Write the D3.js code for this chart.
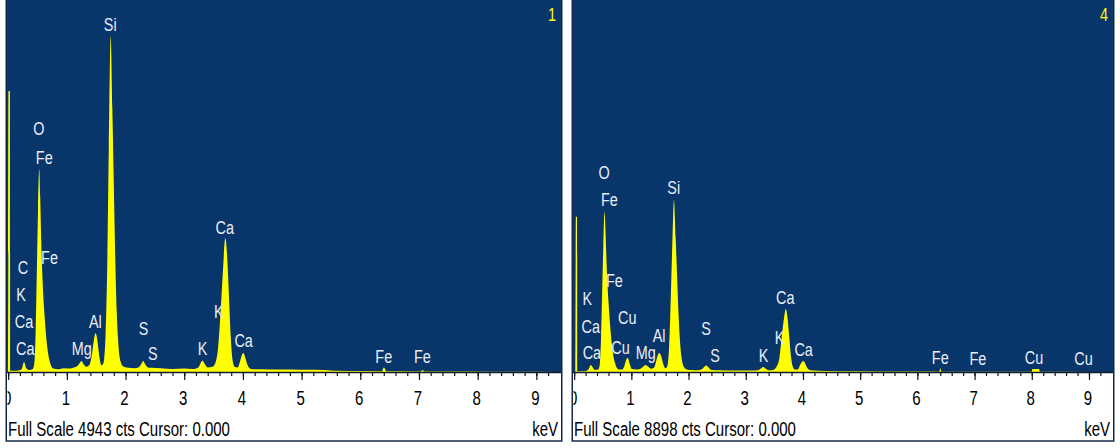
<!DOCTYPE html>
<html>
<head>
<meta charset="utf-8">
<script src="https://cdn.jsdelivr.net/npm/d3@7"></script>
<style>
  html, body { margin: 0; padding: 0; background: #ffffff; }
  svg { display: block; }
  text { font-family: "Liberation Sans", Arial, sans-serif; }
</style>
</head>
<body>
<svg id="chart" width="1120" height="448"></svg>
<script>
// ---- EDS spectra: [energy keV, counts] ----
const spectrum1 = [
  [-0.02, 0], [0.0, 0], [0.005, 3734], [0.03, 3734], [0.035, 20],
  [0.10, 15], [0.18, 20], [0.23, 40], [0.27, 133], [0.31, 50], [0.36, 25], [0.42, 40], [0.45, 150],
  [0.47, 600], [0.49, 1400], [0.51, 2200], [0.528, 2698], [0.545, 2350], [0.565, 1700], [0.59, 1150],
  [0.62, 750], [0.65, 450], [0.68, 250], [0.72, 110], [0.77, 45],
  [0.85, 35], [0.95, 50], [1.05, 45], [1.12, 60], [1.18, 80], [1.22, 120], [1.25, 146], [1.28, 110],
  [1.33, 70], [1.38, 90], [1.42, 200], [1.46, 420], [1.49, 518], [1.52, 420], [1.555, 200], [1.59, 90],
  [1.62, 110], [1.66, 500], [1.69, 1500], [1.715, 3000], [1.747, 4465], [1.775, 3500], [1.80, 2500],
  [1.825, 1500], [1.85, 800], [1.88, 350], [1.92, 130], [1.97, 70],
  [2.05, 55], [2.15, 50], [2.22, 60], [2.27, 110], [2.30, 146], [2.33, 110], [2.38, 60], [2.45, 55],
  [2.6, 50], [2.8, 40], [3.0, 45], [3.15, 40], [3.24, 60], [3.28, 120], [3.31, 153], [3.34, 120],
  [3.40, 60], [3.48, 70], [3.53, 120], [3.58, 350], [3.62, 800], [3.66, 1350], [3.70, 1781],
  [3.73, 1550], [3.76, 1050], [3.79, 500], [3.82, 180], [3.86, 70], [3.91, 60],
  [3.95, 140], [3.99, 240], [4.01, 252], [4.04, 190], [4.08, 90], [4.14, 40], [4.3, 35], [4.6, 32],
  [5.0, 30], [5.4, 28], [5.6, 15], [6.0, 12], [6.3, 10], [6.37, 10], [6.40, 60], [6.45, 10],
  [6.9, 8], [7.03, 8], [7.06, 25], [7.09, 5], [7.5, 5], [8.2, 3], [9.42, 0]
];

const spectrum2 = [
  [-0.02, 0], [0.02, 0], [0.03, 3715], [0.05, 3715], [0.06, 20],
  [0.12, 15], [0.20, 25], [0.25, 60], [0.29, 167], [0.32, 120], [0.36, 50], [0.42, 60], [0.45, 200],
  [0.47, 800], [0.49, 1900], [0.51, 3000], [0.53, 3834], [0.55, 3300], [0.57, 2500], [0.60, 1700],
  [0.63, 1100], [0.66, 650], [0.69, 350], [0.73, 150], [0.78, 60],
  [0.84, 60], [0.88, 150], [0.92, 320], [0.94, 335], [0.97, 200], [1.01, 70], [1.08, 60], [1.16, 80],
  [1.21, 130], [1.25, 167], [1.29, 130], [1.34, 80], [1.40, 110],
  [1.44, 300], [1.47, 430], [1.49, 454], [1.52, 380], [1.56, 180], [1.60, 90], [1.63, 150],
  [1.66, 600], [1.69, 1800], [1.715, 3000], [1.745, 4114], [1.775, 3200], [1.80, 2300], [1.825, 1400],
  [1.85, 750], [1.88, 330], [1.92, 120], [1.97, 60],
  [2.05, 45], [2.15, 40], [2.24, 70], [2.28, 130], [2.31, 155], [2.34, 120], [2.40, 50], [2.55, 40],
  [2.8, 35], [3.1, 35], [3.23, 50], [3.28, 100], [3.31, 120], [3.34, 90], [3.40, 40],
  [3.48, 50], [3.54, 130], [3.59, 350], [3.63, 850], [3.67, 1300], [3.70, 1507], [3.73, 1300],
  [3.76, 850], [3.79, 380], [3.82, 140], [3.86, 60], [3.91, 60],
  [3.95, 170], [3.99, 250], [4.01, 263], [4.04, 200], [4.08, 90], [4.14, 40], [4.4, 25], [5.0, 18],
  [5.6, 12], [6.2, 10], [6.38, 8], [6.40, 90], [6.42, 8], [7.0, 6], [7.9, 5], [8.0, 5],
  [8.01, 72], [8.13, 72], [8.14, 5], [9.0, 3], [9.42, 0]
];

// ---- Element markers: [symbol, line energy keV, label height in counts] ----
const labels1 = [
  ["Si", 1.74, 4625], ["O", 0.525, 3243], ["Fe", 0.615, 2857], ["Fe", 0.705, 1528],
  ["C", 0.25, 1395], ["K", 0.22, 1037], ["Ca", 0.27, 678], ["Ca", 0.29, 319],
  ["Mg", 1.253, 319], ["Al", 1.486, 678], ["S", 2.307, 585], ["S", 2.464, 253],
  ["K", 3.312, 319], ["K", 3.589, 811], ["Ca", 3.69, 1931], ["Ca", 4.012, 425],
  ["Fe", 6.40, 213], ["Fe", 7.057, 213]
];

const labels2 = [
  ["O", 0.525, 4791], ["Fe", 0.615, 4138], ["Si", 1.74, 4432], ["Fe", 0.705, 2201],
  ["K", 0.23, 1770], ["Ca", 0.29, 1107], ["Ca", 0.31, 486], ["Cu", 0.93, 1323], ["Cu", 0.811, 605],
  ["Mg", 1.253, 486], ["Al", 1.486, 885], ["S", 2.307, 1052], ["S", 2.464, 407],
  ["K", 3.312, 407], ["K", 3.589, 844], ["Ca", 3.69, 1801], ["Ca", 4.012, 550],
  ["Fe", 6.40, 366], ["Fe", 7.057, 335], ["Cu", 8.04, 366], ["Cu", 8.904, 335]
];

const fullScales = [4943, 8898];
const spectrumNumbers = ["1", "4"];
const energyTicks = [0, 1, 2, 3, 4, 5, 6, 7, 8, 9];
const minorTicks = d3.range(0, 47).map(i => i * 0.2);
const energyDomain = [-0.02, 9.42];
const cursorText = "Cursor: 0.000";
const unitText = "keV";

// ---- Layout ----
const layout = [{ left: 7, right: 561 }, { left: 573, right: 1113 }];
const plotTop = 0, axisY = 372, frameBottom = 441;
const blue = "#08356a", trace = "#ffff00", frameColor = "#142a4c";
const markerSize = 19, markerSquash = 0.76;
const axisSize = 21, axisSquash = 0.715;

const svg = d3.select("#chart");
const spectra = [spectrum1, spectrum2];
const markerSets = [labels1, labels2];

spectra.forEach((spectrum, i) => {
  const L = layout[i];
  const g = svg.append("g");
  const x = d3.scaleLinear().domain(energyDomain).range([L.left, L.right]);
  const y = d3.scaleLinear().domain([0, fullScales[i]]).range([axisY, plotTop]);

  // panel frame with white axis strip
  g.append("rect")
    .attr("x", L.left - 0.75).attr("y", -5)
    .attr("width", L.right - L.left + 1.5).attr("height", frameBottom + 5)
    .attr("fill", "#ffffff").attr("stroke", frameColor).attr("stroke-width", 1.5);

  // plot background
  g.append("rect")
    .attr("x", L.left).attr("y", plotTop)
    .attr("width", L.right - L.left).attr("height", axisY - plotTop)
    .attr("fill", blue);

  const clipId = "plotclip" + i;
  svg.append("clipPath").attr("id", clipId).append("rect")
    .attr("x", L.left).attr("y", plotTop)
    .attr("width", L.right - L.left).attr("height", axisY - plotTop);
  const axisClipId = "axisclip" + i;
  svg.append("clipPath").attr("id", axisClipId).append("rect")
    .attr("x", L.left + 0.5).attr("y", axisY - 2)
    .attr("width", L.right - L.left - 1).attr("height", frameBottom - axisY);

  // spectrum trace
  const area = d3.area()
    .x(d => x(d[0]))
    .y0(y(0))
    .y1(d => y(d[1]))
    .curve(d3.curveMonotoneX);
  g.append("path")
    .datum(spectrum)
    .attr("clip-path", `url(#${clipId})`)
    .attr("d", area)
    .attr("fill", trace);

  // element markers
  g.append("g").attr("clip-path", `url(#${clipId})`)
    .selectAll("text").data(markerSets[i]).join("text")
    .attr("transform", d => `translate(${x(d[1])},${y(d[2])}) scale(${markerSquash},1)`)
    .attr("text-anchor", "middle")
    .attr("dy", "0.36em")
    .attr("font-size", markerSize)
    .attr("fill", "#e8eef6")
    .text(d => d[0]);

  // spectrum number
  g.append("text")
    .attr("transform", `translate(${L.right - 9},${14}) scale(${markerSquash},1)`)
    .attr("text-anchor", "middle")
    .attr("dy", "0.36em")
    .attr("font-size", markerSize)
    .attr("fill", trace)
    .text(spectrumNumbers[i]);

  // energy axis
  const axisG = g.append("g").attr("clip-path", `url(#${axisClipId})`);
  const minorAxis = axisG.append("g")
    .attr("transform", `translate(0,${axisY})`)
    .call(d3.axisBottom(x).tickValues(minorTicks).tickSize(4).tickFormat(""));
  const majorAxis = axisG.append("g")
    .attr("transform", `translate(0,${axisY})`)
    .call(d3.axisBottom(x).tickValues(energyTicks).tickSize(8).tickFormat(d3.format("d")));
  [minorAxis, majorAxis].forEach(a => {
    a.select(".domain").remove();
    a.selectAll("line").attr("stroke", "#111").attr("stroke-width", 1.2);
  });
  majorAxis.selectAll("text")
    .attr("y", 33.5).attr("dy", null)
    .attr("transform", `translate(-1.5,0) scale(${axisSquash},1)`)
    .attr("font-size", axisSize)
    .attr("font-family", '"Liberation Sans", Arial, sans-serif')
    .attr("fill", "#000");

  g.append("line")
    .attr("x1", L.left).attr("x2", L.right)
    .attr("y1", axisY + 0.5).attr("y2", axisY + 0.5)
    .attr("stroke", "#111c30").attr("stroke-width", 1.5);

  // status line
  g.append("text")
    .attr("transform", `translate(${L.left + 1},${428}) scale(${axisSquash},1)`)
    .attr("dy", "0.36em")
    .attr("font-size", axisSize)
    .attr("fill", "#000")
    .text(`Full Scale ${fullScales[i]} cts ${cursorText}`);
  g.append("text")
    .attr("transform", `translate(${L.right - 3},${428}) scale(${axisSquash},1)`)
    .attr("text-anchor", "end")
    .attr("dy", "0.36em")
    .attr("font-size", axisSize)
    .attr("fill", "#000")
    .text(unitText);
});
</script>
</body>
</html>
